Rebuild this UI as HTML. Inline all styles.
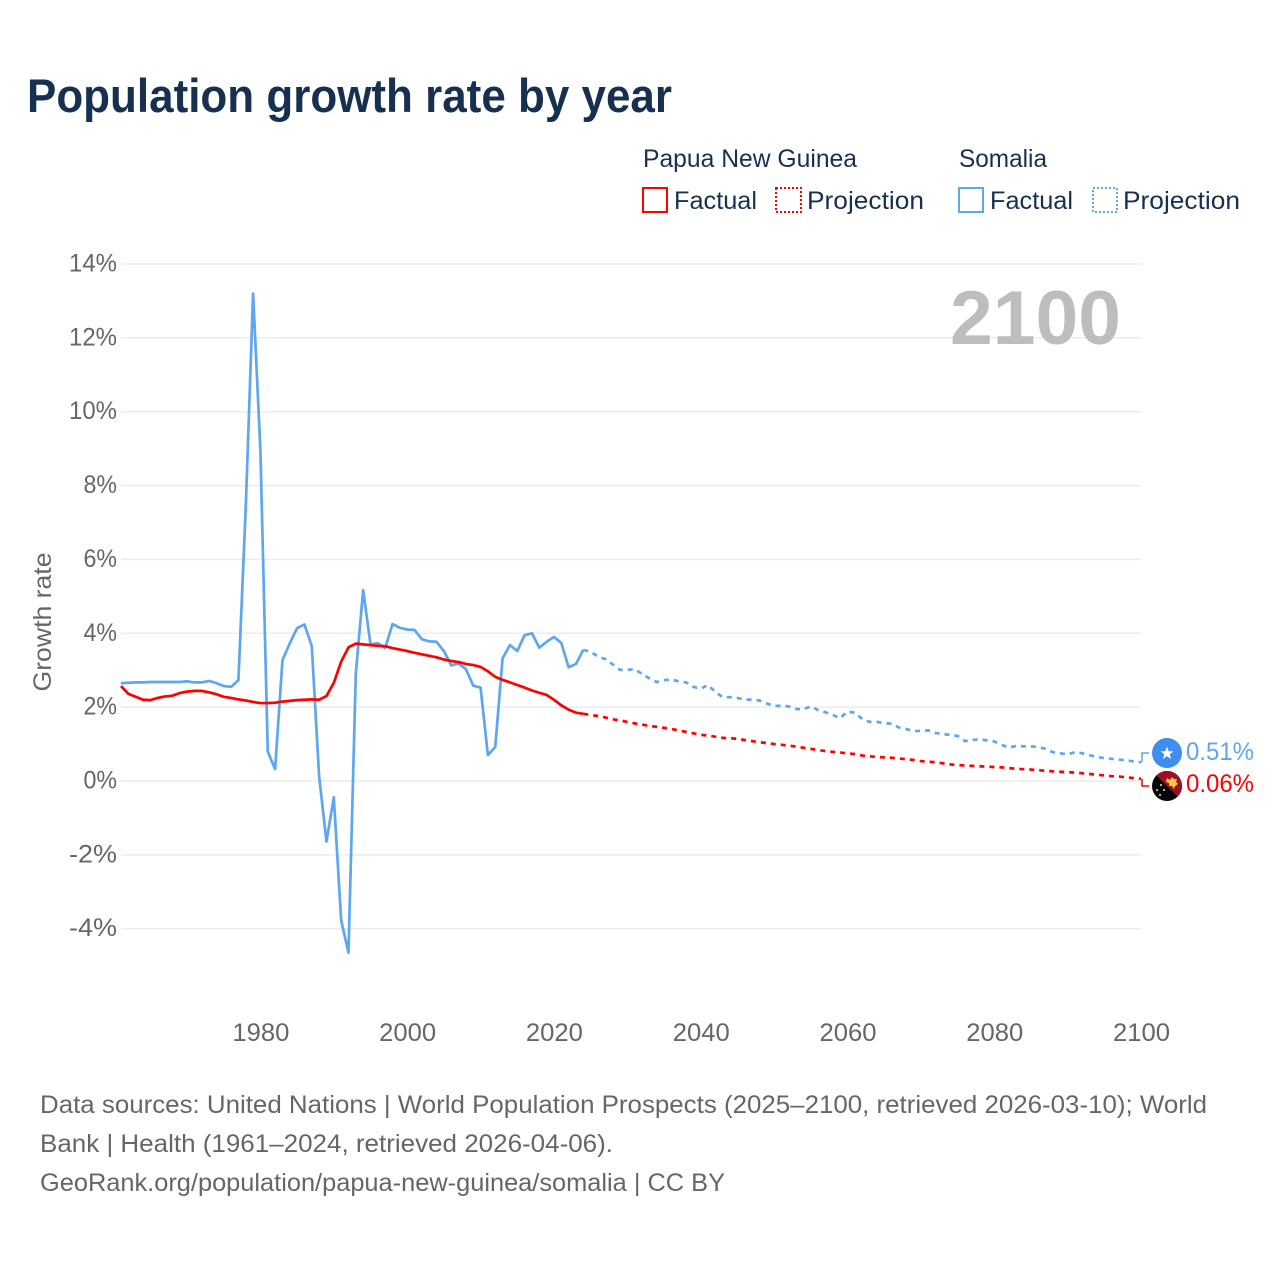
<!DOCTYPE html>
<html lang="en">
<head>
<meta charset="utf-8">
<title>Population growth rate by year</title>
<style>
html,body{margin:0;padding:0;background:#fff;width:1280px;height:1280px;overflow:hidden}
svg{display:block}
text{font-family:"Liberation Sans",sans-serif}
.tick{font-size:25px;fill:#666}
.legend{font-size:25px;fill:#17304f}
.foot{font-size:25px;fill:#666}
</style>
</head>
<body>
<svg id="chart" xmlns="http://www.w3.org/2000/svg" width="1280" height="1280" viewBox="0 0 1280 1280">
  <rect width="1280" height="1280" fill="#fff"/>
  <text x="27" y="112" font-size="47" font-weight="700" fill="#17304f" textLength="645" lengthAdjust="spacingAndGlyphs">Population growth rate by year</text>

  <g>
    <text class="legend" x="643" y="167" textLength="214" lengthAdjust="spacingAndGlyphs">Papua New Guinea</text>
    <rect x="643" y="188" width="24" height="24" fill="none" stroke="#f00" stroke-width="2"/>
    <text class="legend" x="674" y="209" textLength="83" lengthAdjust="spacingAndGlyphs">Factual</text>
    <rect x="776" y="188" width="25" height="24" fill="none" stroke="#f00" stroke-width="2" stroke-dasharray="2 2"/>
    <text class="legend" x="807" y="209" textLength="117" lengthAdjust="spacingAndGlyphs">Projection</text>
    <text class="legend" x="959" y="167" textLength="88" lengthAdjust="spacingAndGlyphs">Somalia</text>
    <rect x="959" y="188" width="24" height="24" fill="none" stroke="#5ea6ee" stroke-width="2"/>
    <text class="legend" x="990" y="209" textLength="83" lengthAdjust="spacingAndGlyphs">Factual</text>
    <rect x="1093" y="188" width="24" height="24" fill="none" stroke="#5ea6ee" stroke-width="2" stroke-dasharray="2 2"/>
    <text class="legend" x="1123" y="209" textLength="117" lengthAdjust="spacingAndGlyphs">Projection</text>
  </g>

  <text class="tick" transform="translate(51 622) rotate(-90)" text-anchor="middle" textLength="139" lengthAdjust="spacingAndGlyphs">Growth rate</text>
  <g id="grid"></g>
  <g id="yticks"></g>
  <g id="xticks"></g>

  <text x="950" y="344" font-size="76" font-weight="700" fill="#bdbdbd" textLength="171" lengthAdjust="spacingAndGlyphs">2100</text>

  <g id="series"></g>

  <g>
    <circle cx="1167" cy="753" r="15" fill="#3d8ef0"/>
    <polygon points="1167,746.5 1168.7,751.2 1173.6,751.3 1169.7,754.3 1171.1,759 1167,756.2 1162.9,759 1164.3,754.3 1160.4,751.3 1165.3,751.2" fill="#fff"/>
  </g>
  <g>
    <clipPath id="png-clip"><circle cx="1167" cy="786" r="15"/></clipPath>
    <g clip-path="url(#png-clip)">
      <rect x="1152" y="771" width="30" height="30" fill="#050505"/>
      <polygon points="1152,771 1182,771 1182,801" fill="#9c1025"/>
      <path d="M1167 778 l3 2 2-3 2 2 3 0 -1 3 2 2 -3 2 -1 3 -2-3 -3 0 0-3 -3-1 z" fill="#f5c842"/>
      <circle cx="1161" cy="785" r="1" fill="#dfe6ee"/>
      <circle cx="1157" cy="790" r="1" fill="#dfe6ee"/>
      <circle cx="1164" cy="790" r="1" fill="#dfe6ee"/>
      <circle cx="1160" cy="795" r="1" fill="#dfe6ee"/>
    </g>
  </g>
  <g id="endlabels"></g>

  <g>
    <text class="foot" x="40" y="1113" textLength="1167" lengthAdjust="spacingAndGlyphs">Data sources: United Nations | World Population Prospects (2025–2100, retrieved 2026-03-10); World</text>
    <text class="foot" x="40" y="1152" textLength="573" lengthAdjust="spacingAndGlyphs">Bank | Health (1961–2024, retrieved 2026-04-06).</text>
    <text class="foot" x="40" y="1191" textLength="685" lengthAdjust="spacingAndGlyphs">GeoRank.org/population/papua-new-guinea/somalia | CC BY</text>
  </g>
</svg>
<script>
const factualStartYear = 1961;
const projectionStartYear = 2024;
const xTickYears = [1980, 2000, 2020, 2040, 2060, 2080, 2100];
const yTickValues = [14, 12, 10, 8, 6, 4, 2, 0, -2, -4];

const somaliaFactual = [2.65,2.66,2.67,2.67,2.68,2.68,2.68,2.68,2.68,
  2.70,2.67,2.67,2.71,2.65,2.57,2.55,2.73,7.4,13.2,8.95,
  0.8,0.32,3.27,3.73,4.14,4.24,3.65,0.12,-1.64,-0.44,
  -3.77,-4.65,2.92,5.17,3.7,3.73,3.6,4.25,4.15,4.1,
  4.09,3.84,3.78,3.77,3.52,3.13,3.18,3.03,2.58,2.53,
  0.7,0.92,3.32,3.68,3.52,3.95,4.0,3.61,3.77,3.9,
  3.74,3.08,3.17,3.55];
const somaliaProjection = [3.55,3.5,3.37,3.3,3.16,3.01,3.01,3.03,2.9,2.78,2.68,2.73,
  2.75,2.7,2.67,2.55,2.5,2.6,2.41,2.27,2.27,2.25,
  2.21,2.2,2.18,2.1,2.03,2.04,2.02,1.95,1.94,2.02,
  1.92,1.86,1.79,1.7,1.88,1.85,1.68,1.6,1.6,1.57,
  1.55,1.45,1.41,1.35,1.36,1.37,1.3,1.27,1.25,1.22,
  1.08,1.11,1.13,1.1,1.07,0.98,0.9,0.95,0.94,0.94,
  0.92,0.87,0.78,0.75,0.72,0.78,0.75,0.7,0.65,0.62,
  0.6,0.58,0.56,0.53,0.51];
const pngFactual = [2.57,2.36,2.28,2.2,2.19,2.25,2.29,2.31,2.38,
  2.42,2.44,2.44,2.4,2.35,2.28,2.25,2.21,2.18,2.14,2.11,
  2.11,2.12,2.15,2.17,2.19,2.2,2.21,2.2,2.3,2.66,
  3.23,3.62,3.72,3.7,3.68,3.66,3.65,3.6,3.56,3.52,
  3.47,3.43,3.39,3.35,3.29,3.25,3.22,3.17,3.14,3.09,
  2.97,2.82,2.74,2.67,2.6,2.53,2.45,2.39,2.33,2.2,
  2.05,1.93,1.85,1.82];
const pngProjection = [1.82,1.79,1.76,1.72,1.67,1.64,1.6,1.56,1.53,1.49,1.47,1.44,
  1.41,1.37,1.33,1.29,1.25,1.23,1.2,1.17,1.16,1.14,
  1.11,1.08,1.05,1.03,1.0,0.98,0.96,0.93,0.9,0.87,
  0.84,0.81,0.79,0.77,0.75,0.73,0.69,0.67,0.65,0.64,
  0.63,0.61,0.59,0.57,0.54,0.52,0.51,0.48,0.45,0.43,
  0.42,0.41,0.4,0.39,0.38,0.37,0.35,0.33,0.32,0.31,
  0.29,0.28,0.26,0.25,0.24,0.23,0.21,0.19,0.17,0.15,
  0.13,0.12,0.1,0.08,0.06];

const NS = 'http://www.w3.org/2000/svg';
function xScale(year) { return 121 + (year - 1961) * (1141 - 121) / (2100 - 1961); }
function yScale(v) { return 781 - v * (781 - 264) / 14; }
function make(tag, attrs, parent) {
  const el = document.createElementNS(NS, tag);
  for (const k in attrs) el.setAttribute(k, attrs[k]);
  parent.appendChild(el);
  return el;
}
function pathFor(values, startYear) {
  return values.map(function (v, i) {
    return (i ? 'L' : 'M') + xScale(startYear + i).toFixed(2) + ' ' + yScale(v).toFixed(2);
  }).join(' ');
}

const gridGroup = document.getElementById('grid');
const yTickGroup = document.getElementById('yticks');
yTickValues.forEach(function (v) {
  const line = make('line', {x1: 121, x2: 1141, y1: yScale(v), y2: yScale(v), stroke: '#ececec', 'stroke-width': 1.5}, gridGroup);
  
  
  const label = make('text', {x: 117, y: yScale(v) + 7.5, 'text-anchor': 'end', 'class': 'tick', textLength: String(v).length * 14.5 + 19, lengthAdjust: 'spacingAndGlyphs'}, yTickGroup);
  label.textContent = v + '%';
  
  
});

const xTickGroup = document.getElementById('xticks');
xTickYears.forEach(function (year) {
  const label = make('text', {x: xScale(year) + 0.5, y: 1041, 'text-anchor': 'middle', 'class': 'tick', textLength: 57, lengthAdjust: 'spacingAndGlyphs'}, xTickGroup);
  label.textContent = year;
  
  
});

const seriesGroup = document.getElementById('series');
const blueFactual = make('path', {d: pathFor(somaliaFactual, factualStartYear), fill: 'none', stroke: '#5ea6ee', 'stroke-width': 2.7, 'stroke-linejoin': 'round'}, seriesGroup);


const blueProjection = make('path', {d: pathFor(somaliaProjection, projectionStartYear), fill: 'none', stroke: '#5ea6ee', 'stroke-width': 2.7, 'stroke-dasharray': '5 5'}, seriesGroup);


const redFactual = make('path', {d: pathFor(pngFactual, factualStartYear), fill: 'none', stroke: '#f00', 'stroke-width': 2.7, 'stroke-linejoin': 'round'}, seriesGroup);


const redProjection = make('path', {d: pathFor(pngProjection, projectionStartYear), fill: 'none', stroke: '#f00', 'stroke-width': 2.7, 'stroke-dasharray': '5 5'}, seriesGroup);



const endGroup = document.getElementById('endlabels');
const lastBlue = somaliaProjection[somaliaProjection.length - 1];
const lastRed = pngProjection[pngProjection.length - 1];
const blueLeader = make('path', {d: 'M1142 ' + yScale(lastBlue).toFixed(1) + ' V753 H1149', fill: 'none', stroke: '#5ea6ee', 'stroke-width': 1.5}, endGroup);


const redLeader = make('path', {d: 'M1142 ' + yScale(lastRed).toFixed(1) + ' V786 H1149', fill: 'none', stroke: '#f00', 'stroke-width': 1.5}, endGroup);


const blueValue = make('text', {x: 1186, y: 760, 'font-size': 25, fill: '#5ea6ee', textLength: 68, lengthAdjust: 'spacingAndGlyphs'}, endGroup);
blueValue.textContent = lastBlue.toFixed(2) + '%';


const redValue = make('text', {x: 1186, y: 792, 'font-size': 25, fill: '#f00', textLength: 68, lengthAdjust: 'spacingAndGlyphs'}, endGroup);
redValue.textContent = lastRed.toFixed(2) + '%';


</script>
</body>
</html>
